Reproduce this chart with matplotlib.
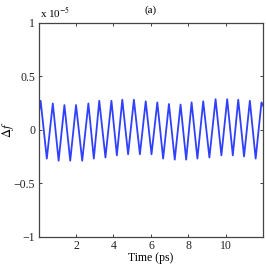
import matplotlib
matplotlib.use("Agg")
import matplotlib.pyplot as plt

# peak / trough vertices (values in units of 1e-5)
t_start, f_start = 0.0, 0.14
peak_t = [0.11, 0.76, 1.38, 2.00, 2.66, 3.24, 3.89, 4.47, 5.09, 5.72,
          6.34, 6.96, 7.58, 8.17, 8.79, 9.45, 10.07, 10.66, 11.28, 11.90]
peak_f = [0.27, 0.245, 0.23, 0.23, 0.245, 0.27, 0.27, 0.28, 0.28, 0.265,
          0.255, 0.24, 0.235, 0.255, 0.265, 0.285, 0.285, 0.28, 0.27, 0.255]
trough_t = [0.44, 1.07, 1.69, 2.33, 2.95, 3.57, 4.18, 4.78, 5.41, 6.03,
            6.65, 7.27, 7.88, 8.48, 9.12, 9.76, 10.37, 10.97, 11.59]
trough_f = [-0.27, -0.29, -0.29, -0.29, -0.27, -0.26, -0.24, -0.23, -0.23, -0.23,
            -0.27, -0.28, -0.28, -0.27, -0.26, -0.24, -0.24, -0.25, -0.27]
t_end, f_end = 12.0, 0.22

xticks = [2, 4, 6, 8, 10]
yticks = [-1, -0.5, 0, 0.5, 1]
ytick_labels = ["\u22121", "\u22120.5", "0", "0.5", "1"]

# build the polyline: start, then alternate peak / trough, then end
t = [t_start]
f = [f_start]
for i in range(len(peak_t)):
    t.append(peak_t[i])
    f.append(peak_f[i])
    if i < len(trough_t):
        t.append(trough_t[i])
        f.append(trough_f[i])
t.append(t_end)
f.append(f_end)

plt.rcParams['font.family'] = ['Liberation Serif', 'DejaVu Serif']
plt.rcParams['mathtext.fontset'] = 'stix'

fig = plt.figure(figsize=(2.66, 2.66), dpi=100)
ax = fig.add_axes([0.145, 0.110, 0.845, 0.805])
ax.plot(t, f, color='#3040ff', linewidth=1.3)

ax.set_xlim(0, 12)
ax.set_ylim(-1, 1)
ax.set_xticks(xticks)
ax.set_xticklabels([str(x) for x in xticks])
ax.set_yticks(yticks)
ax.set_yticklabels(ytick_labels)
ax.tick_params(direction='in', length=2.5, width=0.6, labelsize=8.5,
               top=True, right=True, colors='#222222', pad=2.5)
for s in ax.spines.values():
    s.set_color('#444444')
    s.set_linewidth(0.9)

ax.set_xlabel('Time (ps)', fontsize=8.5, labelpad=0)
ax.set_ylabel(r'$\Delta f$', fontsize=9, va='center')
ax.yaxis.set_label_coords(-0.135, 0.5)
ax.set_title('(a)', fontsize=8, pad=7)
fig.text(0.15, 0.935, r'x 10$^{-5}$', fontsize=8)

fig.savefig('out.png', dpi=100)
